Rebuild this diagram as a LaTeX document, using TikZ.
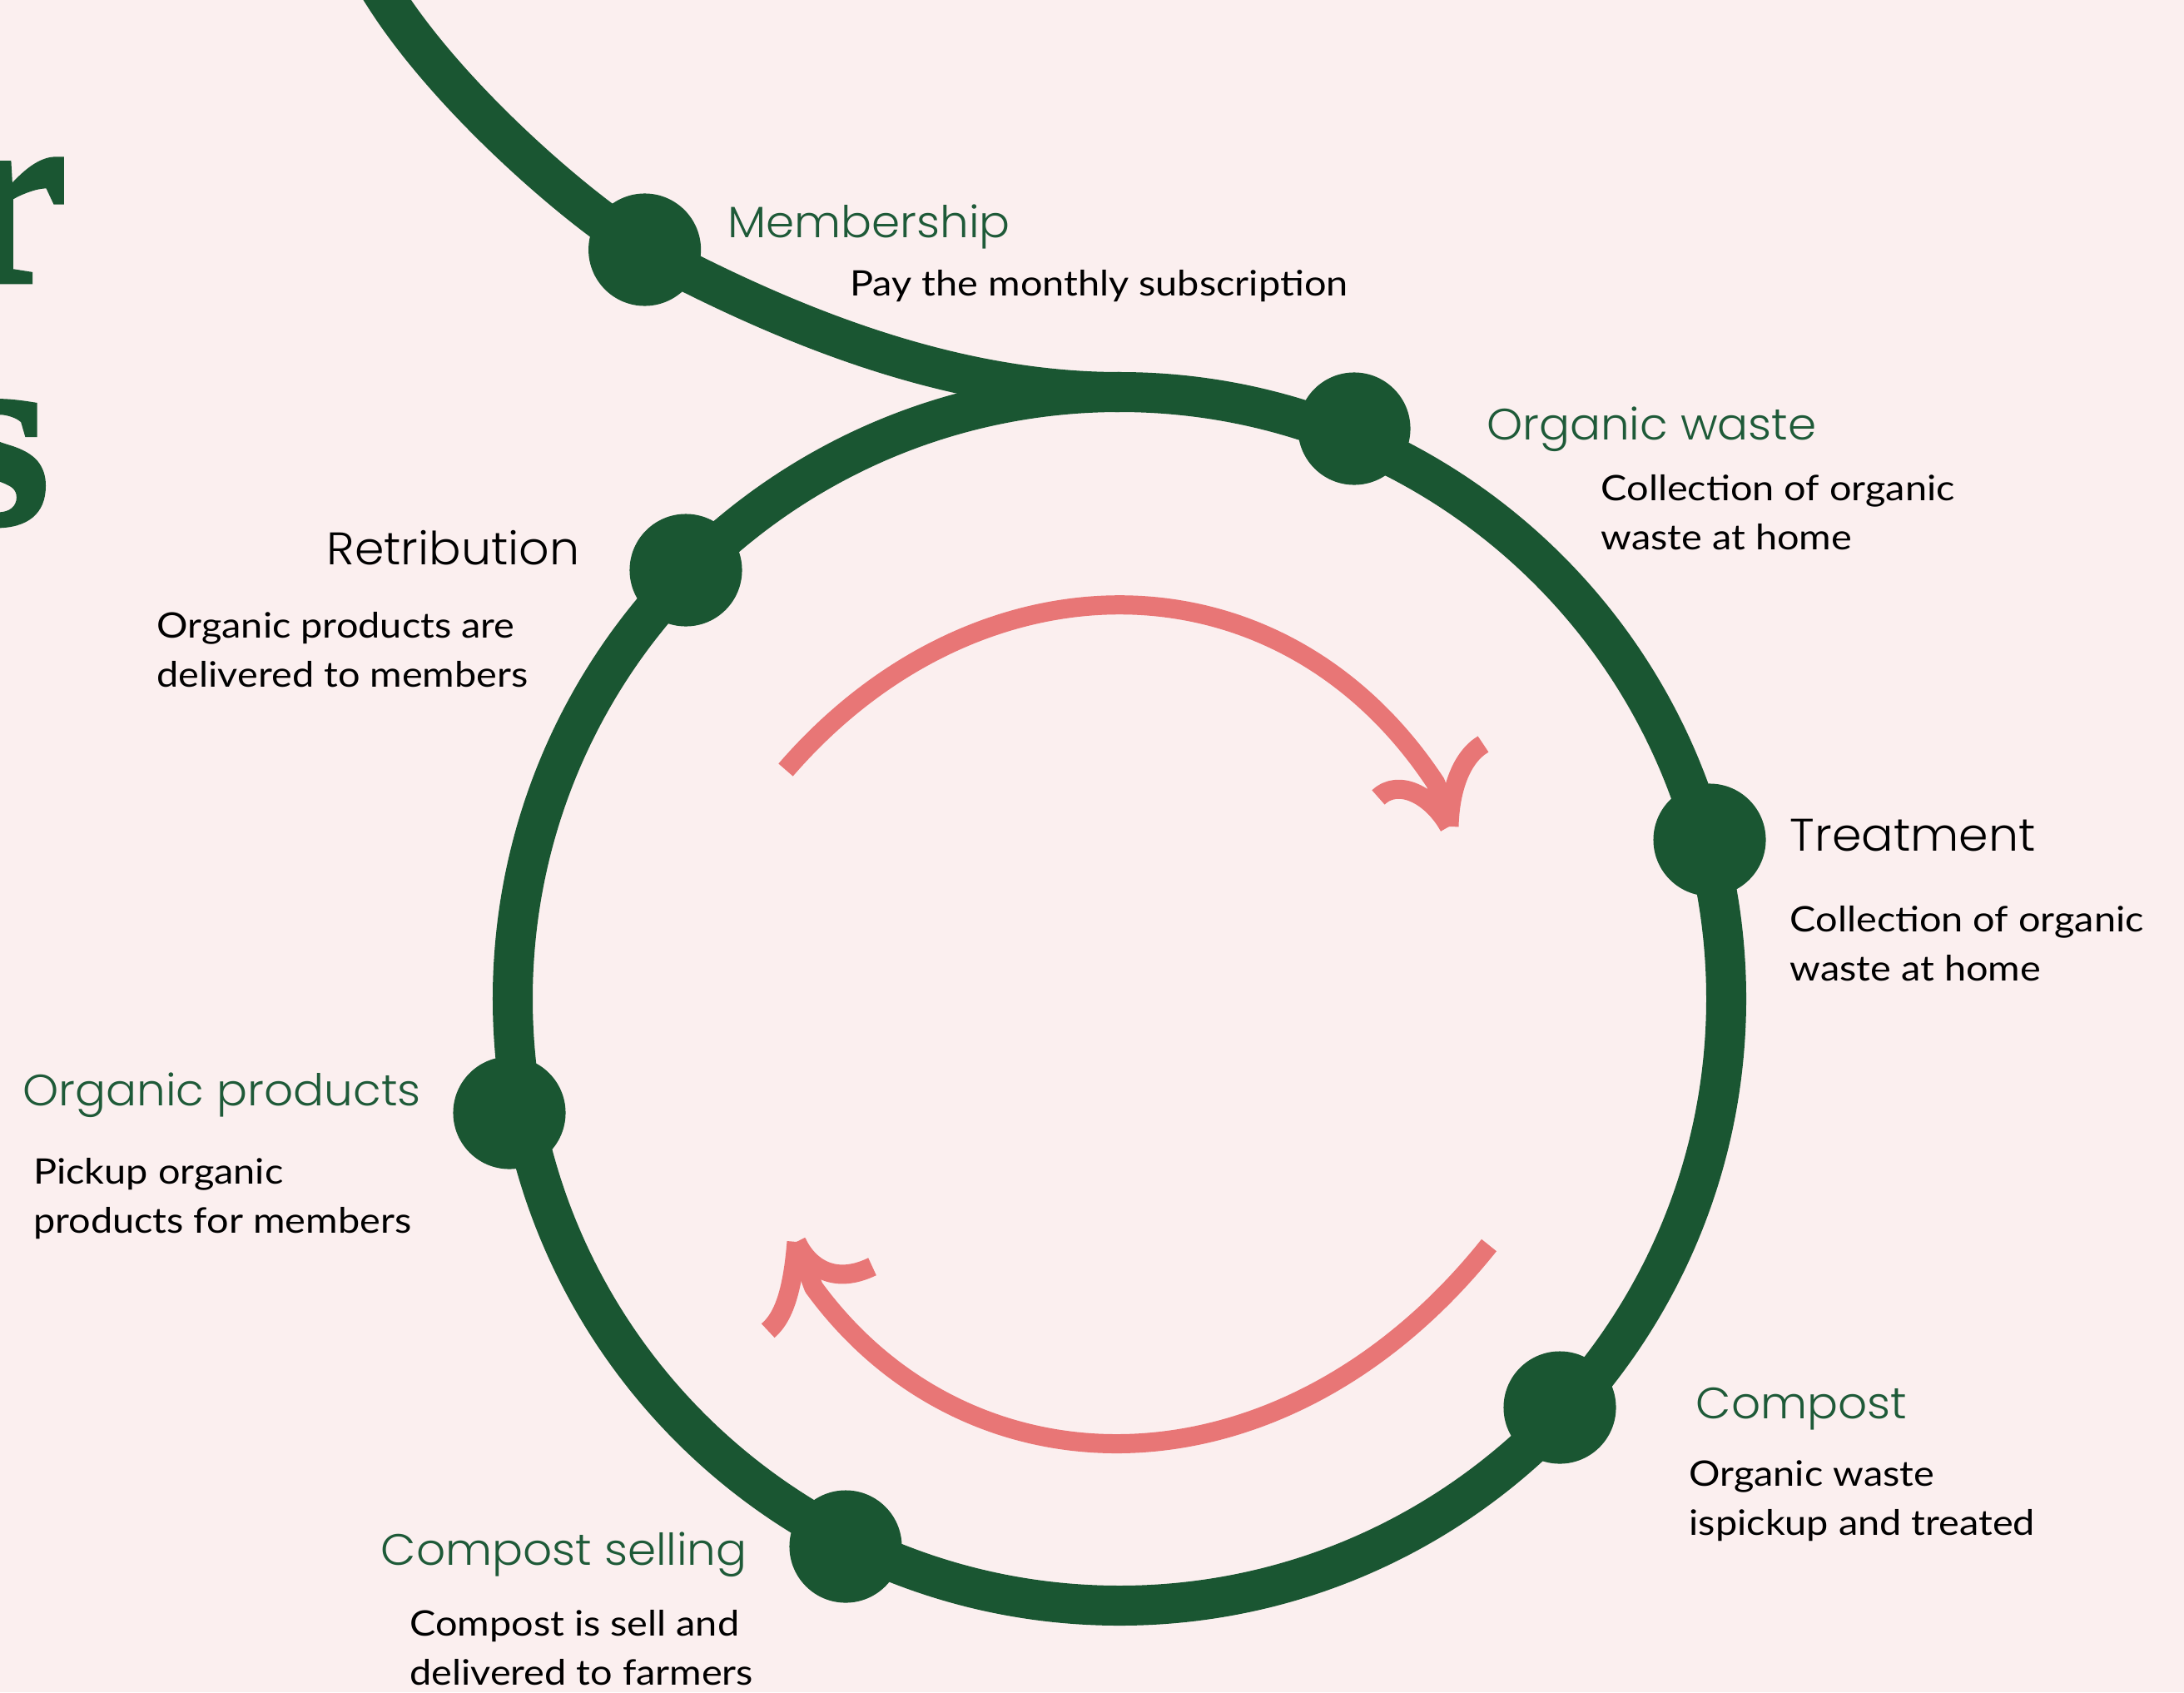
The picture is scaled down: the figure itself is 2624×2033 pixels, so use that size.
\documentclass[tikz,border=0pt]{standalone}
\usepackage{fontspec}
\setmainfont{Lato}[FakeStretch=1.11]
\IfFontExistsTF{Poppins Light}
  {\newfontfamily\headfont{Poppins Light}[FakeStretch=1.04]}
  {\newfontfamily\headfont{Poppins}[FakeStretch=1.03]}
\newfontfamily\titlefont{Liberation Serif}[BoldFeatures={FakeBold=1.5}]
\definecolor{bg}{HTML}{FBEFEF}
\definecolor{ringgreen}{HTML}{1A5632}
\definecolor{headgreen}{HTML}{1E5A38}
\definecolor{arrowpink}{HTML}{E87676}
\newcommand\mytwolines[2]{\begin{tabular}[t]{@{}l@{}}#1\\#2\end{tabular}}
\begin{document}
\begin{tikzpicture}[x=0.01cm,y=-0.01cm,
  ring/.style={draw=ringgreen, line width=0.48cm},
  dot/.style={circle, fill=ringgreen, minimum size=1.35cm, inner sep=0pt},
  heading/.style={font=\headfont\fontsize{15}{18}\selectfont, anchor=base west, inner sep=0pt, text=headgreen},
  blackheading/.style={heading, font=\headfont\fontsize{15.6}{18}\selectfont, text=black},
  desc/.style={font=\fontsize{12}{16.8}\selectfont, anchor=base west, inner sep=0pt, text=black},
  flow/.style={draw=arrowpink, line width=0.23cm, line join=round},
  titleletter/.style={font=\titlefont\bfseries\fontsize{89}{89}\selectfont, text=ringgreen, anchor=base east, inner sep=0pt}]
\useasboundingbox (0,0) rectangle (2624,2033);
\fill[bg] (0,0) rectangle (2624,2033);
\clip (0,0) rectangle (2624,2033);

% partial title letters
\node[titleletter] (tr) at (82,339) {r};
\node[titleletter] (ts) at (61,629) {s};

% ring and membership path
\coordinate (C) at (1345,1200);
\coordinate (memstart) at (438,-42);
\coordinate (memoff) at (465,0);
\coordinate (top) at (1345,471);
\draw[ring] (C) circle[radius=729];
\draw[ring] (memstart) -- (memoff) .. controls (546.8,125.9) and (705.3,260) .. (774.6,300)
  .. controls (950.6,394) and (1145,471) .. (top);

% dots
\node[dot] (mem) at (774.6,300) {};
\node[dot] (ow) at (1627,515) {};
\node[dot] (trd) at (2054,1009) {};
\node[dot] (co) at (1874,1691) {};
\node[dot] (cs) at (1016,1858) {};
\node[dot] (op) at (612,1337) {};
\node[dot] (re) at (824,685) {};

% pink arrows
\draw[flow] (944,925) .. controls (1175,658) and (1539,658) .. (1725,941) -- (1741,993);
\draw[flow] (1741,993) .. controls (1720,955) and (1680,935) .. (1656,958);
\draw[flow] (1741,993) .. controls (1742,950) and (1755,910) .. (1782,894);
\draw[flow] (1789,1496) .. controls (1542,1805) and (1166,1805) .. (977.6,1546.7) -- (957,1492);
\draw[flow] (957,1492) .. controls (953,1540) and (945,1580) .. (922.7,1598.7);
\draw[flow] (957,1492) .. controls (970,1520) and (1000,1545) .. (1048,1521.7);

% labels
\node[heading] (memT) at (873.5,285) {Membership};
\node[desc] (memD) at (1020.8,355.7) {Pay the monthly subscription};
\node[heading] (owT) at (1785.3,528.2) {Organic waste};
\node[desc] (owD) at (1923,601.4) {\mytwolines{Collection of organic}{waste at home}};
\node[blackheading] (trT) at (2150,1022.6) {Treatment};
\node[desc] (trD) at (2150,1119.6) {\mytwolines{Collection of organic}{waste at home}};
\node[blackheading] (reT) at (392,678.6) {Retribution};
\node[desc] (reD) at (188,766) {\mytwolines{Organic products are}{delivered to members}};
\node[heading] (opT) at (26.8,1328) {Organic products};
\node[desc] (opD) at (39.5,1422) {\mytwolines{Pickup organic}{products for members}};
\node[heading] (coT) at (2037,1704.3) {Compost};
\node[desc] (coD) at (2028.9,1785.7) {\mytwolines{Organic waste}{ispickup and treated}};
\node[heading] (csT) at (457,1880.7) {Compost selling};
\node[desc] (csD) at (491.5,1965) {\mytwolines{Compost is sell and}{delivered to farmers}};
\end{tikzpicture}
\end{document}
